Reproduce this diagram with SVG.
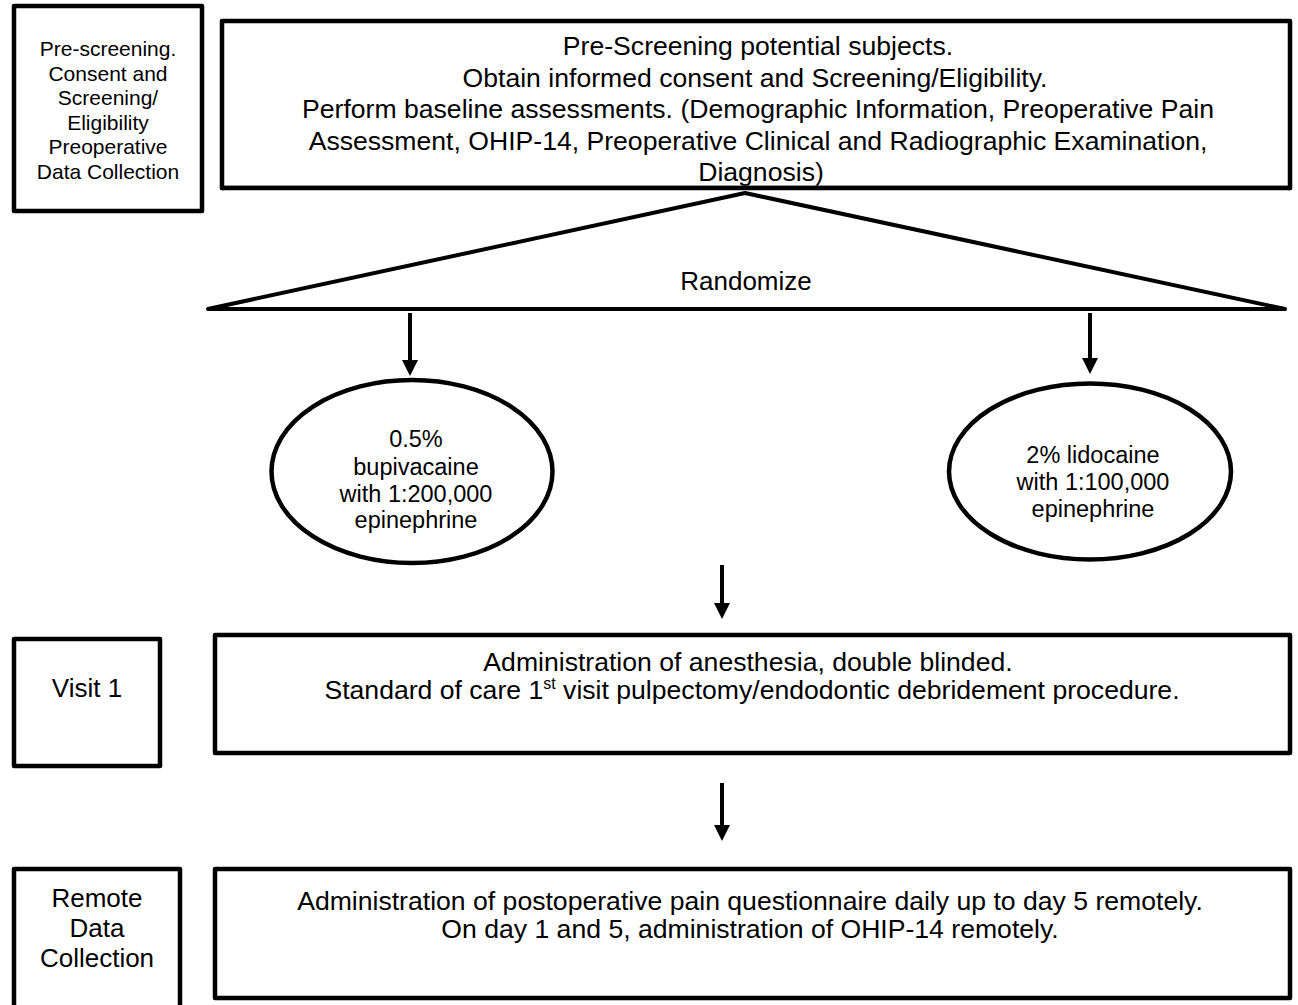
<svg xmlns="http://www.w3.org/2000/svg" width="1298" height="1005" viewBox="0 0 1298 1005">
<style>
.box{fill:#fff;stroke:#000;stroke-width:4.5;stroke-linejoin:round}
.ell{fill:#fff;stroke:#000;stroke-width:4.5}
.conn{stroke:#000;stroke-width:4;fill:none}
text{font-family:"Liberation Sans",Arial,sans-serif;fill:#000;text-anchor:middle}
.t26{font-size:26px}
.t27{font-size:26.6px}
.t24{font-size:23.5px}
.t21{font-size:21px}
</style>
<defs>
<marker id="ah" viewBox="0 0 16 16" refX="0" refY="8" markerWidth="16" markerHeight="16" markerUnits="userSpaceOnUse" orient="auto">
<path d="M0,0 L16,8 L0,16 z" fill="#000"/>
</marker>
</defs>
<rect width="1298" height="1005" fill="#fff"/>

<g id="label-prescreening">
<rect class="box" x="14" y="6" width="188" height="205" stroke-width="5"/>
<text class="t21"><tspan x="108" y="56">Pre-screening.</tspan><tspan x="108" y="80.5">Consent and</tspan><tspan x="108" y="105">Screening/</tspan><tspan x="108" y="129.5">Eligibility</tspan><tspan x="108" y="154">Preoperative</tspan><tspan x="108" y="178.5">Data Collection</tspan></text>
</g>

<g id="prescreening">
<rect class="box" x="222" y="21" width="1068" height="167"/>
<text class="t27"><tspan x="758" y="55">Pre-Screening potential subjects.</tspan><tspan x="755" y="86.5">Obtain informed consent and Screening/Eligibility.</tspan><tspan x="758" y="118">Perform baseline assessments. (Demographic Information, Preoperative Pain</tspan><tspan x="758" y="149.5">Assessment, OHIP-14, Preoperative Clinical and Radiographic Examination,</tspan><tspan x="761" y="181">Diagnosis)</tspan></text>
<rect x="224" y="185.8" width="1064" height="10" fill="#fff"/>
<line x1="222" y1="188" x2="1290" y2="188" stroke="#000" stroke-width="4.5" stroke-linecap="round"/>
</g>

<g id="randomize">
<polygon class="conn" points="208,309 745,193 1285,309" stroke-width="4.5" stroke-linejoin="round"/>
<text class="t26" x="746" y="290">Randomize</text>
</g>

<g id="bupivacaine">
<ellipse class="ell" cx="412" cy="471.5" rx="140.5" ry="91.5"/>
<text class="t24"><tspan x="416" y="447">0.5%</tspan><tspan x="416" y="474.5">bupivacaine</tspan><tspan x="416" y="501.5">with 1:200,000</tspan><tspan x="416" y="528">epinephrine</tspan></text>
</g>

<g id="lidocaine">
<ellipse class="ell" cx="1090" cy="471.5" rx="141" ry="88"/>
<text class="t24"><tspan x="1093" y="463">2% lidocaine</tspan><tspan x="1093" y="490">with 1:100,000</tspan><tspan x="1093" y="516.5">epinephrine</tspan></text>
</g>

<g id="label-visit1">
<rect class="box" x="14" y="639" width="146" height="127"/>
<text class="t26" x="87" y="697">Visit 1</text>
</g>

<g id="visit1">
<rect class="box" x="215" y="635" width="1075" height="118"/>
<text class="t27"><tspan x="748" y="671">Administration of anesthesia, double blinded.</tspan><tspan x="752" y="699">Standard of care 1<tspan font-size="16" dy="-10">st</tspan><tspan dy="10"> visit pulpectomy/endodontic debridement procedure.</tspan></tspan></text>
</g>

<g id="label-remote">
<rect class="box" x="14" y="869" width="166" height="160"/>
<text class="t26"><tspan x="97" y="907">Remote</tspan><tspan x="97" y="937">Data</tspan><tspan x="97" y="967">Collection</tspan></text>
</g>

<g id="remote">
<rect class="box" x="215" y="869" width="1075" height="129"/>
<text class="t27"><tspan x="750" y="910">Administration of postoperative pain questionnaire daily up to day 5 remotely.</tspan><tspan x="750" y="938">On day 1 and 5, administration of OHIP-14 remotely.</tspan></text>
</g>

<g id="connectors">
<line class="conn" x1="410" y1="313" x2="410" y2="360" marker-end="url(#ah)"/>
<line class="conn" x1="1090" y1="313" x2="1090" y2="358" marker-end="url(#ah)"/>
<line class="conn" x1="722" y1="565" x2="722" y2="603" marker-end="url(#ah)"/>
<line class="conn" x1="722" y1="783" x2="722" y2="825" marker-end="url(#ah)"/>
</g>
</svg>
